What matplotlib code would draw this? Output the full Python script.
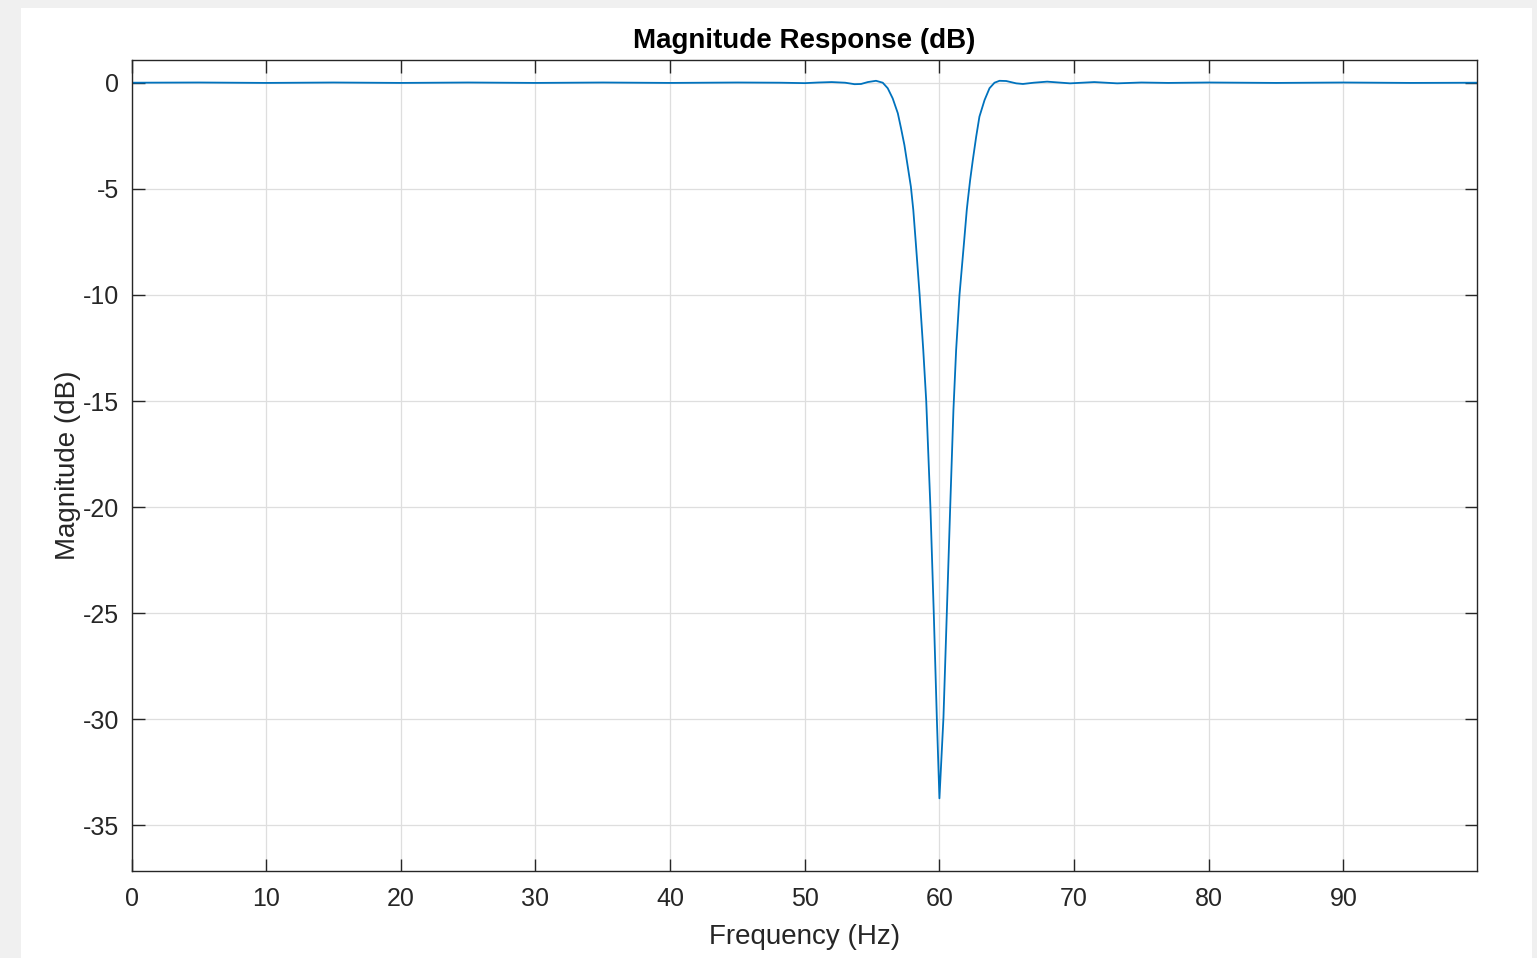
import matplotlib
matplotlib.use("Agg")
import matplotlib.pyplot as plt
from matplotlib.patches import Rectangle

# frequency (Hz) and magnitude (dB)
freq = [0, 5, 10, 15, 20, 25, 30, 35, 40, 45, 48.2, 50.0, 51.0, 52.0, 53.0,
        53.7, 54.18, 54.68, 55.29, 55.79, 56.16, 56.53, 56.91, 57.15, 57.40,
        57.65, 57.88, 58.06, 58.24, 58.53, 58.80, 59.02, 59.33, 59.58, 59.81,
        60.0,
        60.30, 60.55, 60.80, 61.04, 61.24, 61.49, 61.83, 62.03, 62.11, 62.28,
        62.48, 62.73, 62.97, 63.35, 63.72, 64.09, 64.46, 64.96,
        65.70, 66.2, 67.0, 68.0, 69.7, 71.5, 73.2, 75, 77, 80, 85, 90, 95, 99.9]
mag_db = [0, 0.01, -0.01, 0.01, -0.01, 0.01, -0.01, 0.01, -0.01, 0.01, 0.0,
          -0.02, 0.01, 0.03, 0.0,
          -0.07, -0.06, 0.03, 0.09, 0.0, -0.26, -0.74, -1.44, -2.15, -2.94,
          -3.96, -4.9, -6.0, -7.5, -10.0, -12.6, -15.0, -20.0, -25.0, -30.0,
          -33.72,
          -29.9, -24.96, -20.0, -15.42, -12.6, -10.0, -7.5, -6.0, -5.53, -4.59,
          -3.64, -2.54, -1.6, -0.82, -0.26, 0.0, 0.09, 0.08,
          -0.03, -0.06, 0.0, 0.05, -0.03, 0.03, -0.03, 0.01, -0.01, 0.01, -0.01,
          0.01, -0.01, 0.0]

xticks = list(range(0, 100, 10))
yticks = [0, -5, -10, -15, -20, -25, -30, -35]

plt.rcParams['font.family'] = ['Liberation Sans', 'DejaVu Sans']
plt.rcParams['axes.unicode_minus'] = False
text_col = '#262626'

fig = plt.figure(figsize=(15.37, 9.58), dpi=100)
fig.patch.set_facecolor('#f0f0f0')
# white figure area of the MATLAB window
fig.add_artist(Rectangle((21 / 1537, 0), (1532 - 21) / 1537, (958 - 8) / 958,
                         transform=fig.transFigure, facecolor='white',
                         edgecolor='none', zorder=-10))

ax = fig.add_axes([131.5 / 1537, (958 - 870.7) / 958,
                   (1476.7 - 131.5) / 1537, (870.7 - 60) / 958])
ax.plot(freq, mag_db, color='#0072BD', lw=1.3)

ax.set_xlim(0, 99.9)
ax.set_ylim(-37.13, 1.07)
ax.set_xticks(xticks)
ax.set_yticks(yticks)
ax.grid(True, color='#dedede', lw=0.9)
ax.set_axisbelow(True)

ax.tick_params(direction='in', length=9, width=1, top=True, right=True,
               labelsize=18, colors=text_col)
ax.tick_params(axis='x', pad=12)
ax.tick_params(axis='y', pad=9)
for s in ax.spines.values():
    s.set_color(text_col)
    s.set_linewidth(1)

ax.set_title('Magnitude Response (dB)', fontsize=20, fontweight='bold',
             color='black', pad=9)
ax.set_xlabel('Frequency (Hz)', fontsize=20, color=text_col, labelpad=9)
ax.set_ylabel('Magnitude (dB)', fontsize=20, color=text_col, labelpad=1)

fig.savefig('out.png', dpi=100, facecolor=fig.get_facecolor())
